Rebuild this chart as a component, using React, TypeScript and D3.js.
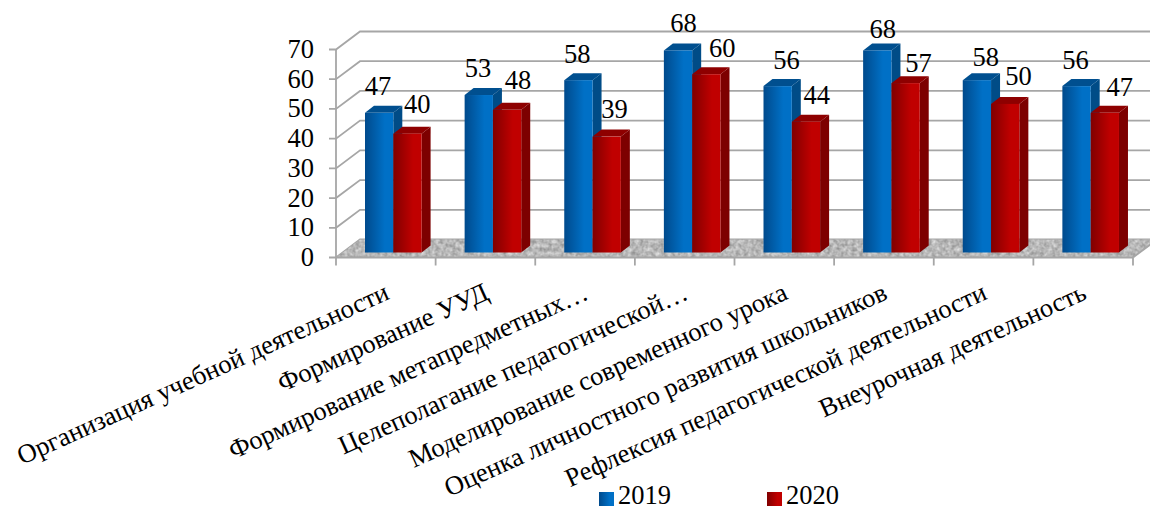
import React from "react";
import * as d3 from "d3";

const categories = [
  "Организация учебной деятельности",
  "Формирование УУД",
  "Формирование метапредметных…",
  "Целеполагание педагогической…",
  "Моделирование современного урока",
  "Оценка личностного развития школьников",
  "Рефлексия педагогической деятельности",
  "Внеурочная деятельность",
];
const values2019 = [47, 53, 58, 68, 56, 68, 58, 56];
const values2020 = [40, 48, 39, 60, 44, 57, 50, 47];
const yTicks = [0, 10, 20, 30, 40, 50, 60, 70];

// per-label placement relative to the bar's top-left corner
const labelDx2019 = [13, 13.4, 13, 19.6, 23, 19.7, 23, 13];
const labelDy2019 = [-18, -18, -17, -18.5, -17, -12.5, -14, -17];
const labelDx2020 = [24, 25, 22, 30, 25, 27, 27.5, 29];
const labelDy2020 = [-20.6, -21, -19, -17, -18, -11, -19, -17];

const FONT = "'Liberation Serif', serif";
const FS = 26.5;
const GRID = "#a6a6a6";
const DX = 24, DY = -18;
const BX = 9, BY = -7;

const x = d3.scaleBand<string>().domain(categories).range([336, 1133]);
const y = d3.scaleLinear().domain([0, 70]).range([257.5, 49.5]);
const barBase = 252.5;
const barH = (v: number) => y(0) - y(v);
const BAR_W = 28.3;
const BAR_OFF = 29;

const poly = (p: number[][]) => p.map((q) => q.join(",")).join(" ");

function Bar({ x0, v, grad, top, side }: { x0: number; v: number; grad: string; top: string; side: string }) {
  const t = barBase - barH(v);
  const x1 = x0 + BAR_W;
  return (
    <g>
      <polygon points={poly([[x1, t], [x1 + BX, t + BY], [x1 + BX, barBase + BY], [x1, barBase]])} fill={side} />
      <polygon points={poly([[x0, t], [x0 + BX, t + BY], [x1 + BX, t + BY], [x1, t]])} fill={top} />
      <rect x={x0} y={t} width={BAR_W} height={barH(v)} fill={`url(#${grad})`} />
    </g>
  );
}

export default function App() {
  const X0 = 336, X1 = 1133;
  const fl = [[X0, y(0)], [X0 + DX, y(0) + DY], [X1 + DX, y(0) + DY], [X1, y(0)]];
  return (
    <svg width={1150} height={510} style={{ position: "absolute", left: 0, top: 0, background: "#fff" }} fontFamily={FONT} fill="#000">
      <defs>
        <linearGradient id="gb" x1="0" x2="1" y1="0" y2="0">
          <stop offset="0" stopColor="#004a8c" />
          <stop offset="0.7" stopColor="#0070c6" />
          <stop offset="1" stopColor="#0070c6" />
        </linearGradient>
        <linearGradient id="gr" x1="0" x2="1" y1="0" y2="0">
          <stop offset="0" stopColor="#800000" />
          <stop offset="0.7" stopColor="#c00000" />
          <stop offset="1" stopColor="#c00000" />
        </linearGradient>
        <filter id="noise" x="0" y="0" width="100%" height="100%" colorInterpolationFilters="sRGB">
          <feTurbulence type="fractalNoise" baseFrequency="0.25" numOctaves={2} seed={3} result="n" />
          <feColorMatrix in="n" type="matrix" values="0.4 0 0 0 0.52  0.4 0 0 0 0.52  0.4 0 0 0 0.52  0 0 0 0 1" result="m" />
          <feComposite in="m" in2="SourceGraphic" operator="in" />
        </filter>
      </defs>

      {/* gridlines */}
      {yTicks.map((t) => (
        <polyline key={t} fill="none" stroke={GRID} strokeWidth={1.8}
          points={poly([[X0 - 7, y(t)], [X0, y(t)], [X0 + DX, y(t) + DY], [X1 + DX, y(t) + DY]])} />
      ))}
      <polygon points={poly(fl)} fill="#bdbdbd" filter="url(#noise)" />
      <line x1={X0} x2={X0} y1={y(70)} y2={y(0)} stroke={GRID} strokeWidth={1.8} />
      <line x1={X0} x2={X1} y1={y(0)} y2={y(0)} stroke={GRID} strokeWidth={1.8} />
      <line x1={X1} x2={X1 + DX} y1={y(0)} y2={y(0) + DY} stroke={GRID} strokeWidth={1.8} />
      {[...categories.map((c) => x(c)!), X1].map((tx, i) => (
        <line key={i} x1={tx} x2={tx} y1={y(0)} y2={y(0) + 8} stroke={GRID} strokeWidth={1.8} />
      ))}

      {yTicks.map((t) => (
        <text key={t} x={314} y={y(t) + 8.5} textAnchor="end" fontSize={FS}>{t}</text>
      ))}

      {/* bars */}
      {categories.map((c, i) => {
        const x0 = x(c)! + BAR_OFF;
        return (
          <g key={c}>
            <Bar x0={x0} v={values2019[i]} grad="gb" top="#004f8f" side="#004c87" />
            <Bar x0={x0 + BAR_W} v={values2020[i]} grad="gr" top="#8e0000" side="#7d0000" />
          </g>
        );
      })}

      {/* value labels */}
      {categories.map((c, i) => {
        const x0 = x(c)! + BAR_OFF;
        return (
          <g key={c} fontSize={FS} textAnchor="middle">
            <text x={x0 + labelDx2019[i]} y={barBase - barH(values2019[i]) + labelDy2019[i]}>{values2019[i]}</text>
            <text x={x0 + BAR_W + labelDx2020[i]} y={barBase - barH(values2020[i]) + labelDy2020[i]}>{values2020[i]}</text>
          </g>
        );
      })}

      {/* category labels */}
      {categories.map((c) => {
        const tx = x(c)! + x.bandwidth() / 2 - 3;
        return (
          <text key={c} transform={`translate(${tx},${281}) rotate(-24.3)`} textAnchor="end" dominantBaseline="hanging" fontSize={FS}>{c}</text>
        );
      })}

      {/* legend */}
      <rect x={599} y={492} width={15} height={14} fill="url(#gb)" />
      <text x={618} y={504} fontSize={FS}>2019</text>
      <rect x={767} y={492} width={15} height={14} fill="url(#gr)" />
      <text x={786} y={504} fontSize={FS}>2020</text>
    </svg>
  );
}
